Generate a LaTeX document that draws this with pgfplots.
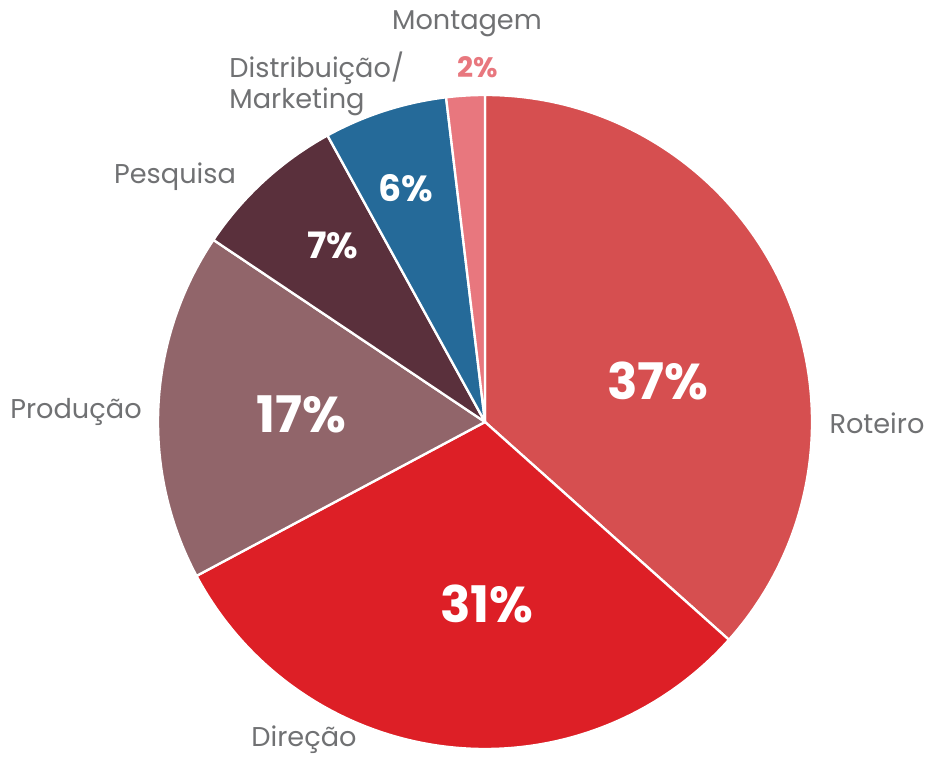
\documentclass[border=0pt]{standalone}
\usepackage{pgfplots}
\usepackage{pgfplotstable}
\pgfplotsset{compat=1.18}
\usepackage{fontspec}
\setmainfont{Poppins}
\definecolor{roteiro}{HTML}{D64F50}
\definecolor{direcao}{HTML}{DD1F26}
\definecolor{producao}{HTML}{91656A}
\definecolor{pesquisa}{HTML}{5A303C}
\definecolor{distrib}{HTML}{256A99}
\definecolor{montagem}{HTML}{E8777E}
\definecolor{lbl}{HTML}{707173}
\pgfplotstableread{
label value color
Roteiro 36.6 roteiro
Direcao 30.6 direcao
Producao 17.2 producao
Pesquisa 7.6 pesquisa
Distribuicao 6.1 distrib
Montagem 1.9 montagem
}\piedata
\begin{document}
\begin{tikzpicture}[every node/.style={inner sep=0pt}]
\begin{axis}[
  scale only axis, width=13.92cm, height=11.325cm,
  xmin=0, xmax=928, ymin=0, ymax=755,
  hide axis, clip=false,
]
\path (axis cs:0,0) (axis cs:928,755);
\gdef\startang{90}
\pgfplotsinvokeforeach{0,...,5}{%
  \pgfplotstablegetelem{#1}{value}\of\piedata \let\v\pgfplotsretval
  \pgfplotstablegetelem{#1}{color}\of\piedata \let\c\pgfplotsretval
  \pgfmathsetmacro\endang{\startang - 3.6*\v}%
  \edef\tmp{\noexpand\fill[\c, draw=white, line width=1pt, line join=round] (axis cs:485,333) -- ++(\startang:49.05mm) arc[start angle=\startang, end angle=\endang, radius=49.05mm] -- cycle;}%
  \tmp
  \global\let\startang\endang
}
% category labels
\node[text=lbl, font=\fontsize{11.6}{13}\selectfont] at (axis cs:877,332) {Roteiro};
\node[text=lbl, font=\fontsize{11.6}{13}\selectfont] at (axis cs:304,15) {Direção};
\node[text=lbl, font=\fontsize{11.6}{13}\selectfont] at (axis cs:76,343) {Produção};
\node[text=lbl, font=\fontsize{11.6}{13}\selectfont] at (axis cs:175,578) {Pesquisa};
\node[text=lbl, font=\fontsize{11.6}{13.4}\selectfont, align=left, anchor=west] at (axis cs:229,671) {Distribuição/\\Marketing};
\node[text=lbl, font=\fontsize{11.6}{13}\selectfont] at (axis cs:467,731) {Montagem};
% percentages
\node[text=white, font=\fontsize{21.5}{24}\selectfont\bfseries] at (axis cs:658,374) {37\%};
\node[text=white, font=\fontsize{21.5}{24}\selectfont\bfseries] at (axis cs:487,151) {31\%};
\node[text=white, font=\fontsize{21.5}{24}\selectfont\bfseries] at (axis cs:301,341) {17\%};
\node[text=white, font=\fontsize{15.5}{18}\selectfont\bfseries] at (axis cs:333,510) {7\%};
\node[text=white, font=\fontsize{15.5}{18}\selectfont\bfseries] at (axis cs:406,567) {6\%};
\node[text=montagem, font=\fontsize{12}{14}\selectfont\bfseries] at (axis cs:478,688) {2\%};
\end{axis}
\end{tikzpicture}
\end{document}
